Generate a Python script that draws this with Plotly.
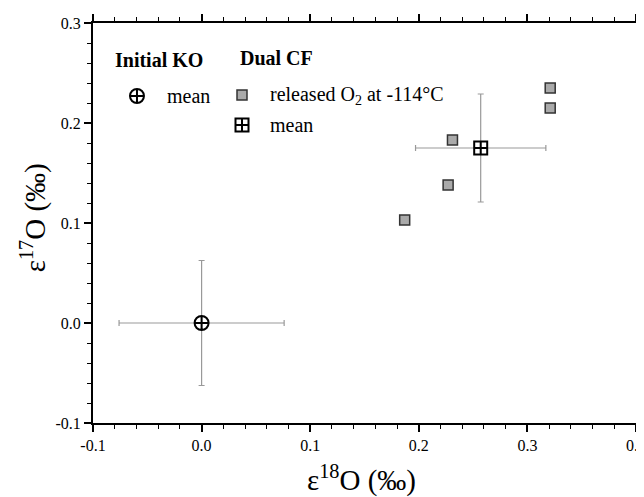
import plotly.graph_objects as go

# Data
ko_x = [0.0]
ko_y = [0.0]
ko_xerr = [0.076]
ko_yerr = [0.0625]

rel_x = [0.321, 0.321, 0.231, 0.227, 0.187]
rel_y = [0.235, 0.215, 0.183, 0.138, 0.103]

cf_mean_x = [0.257]
cf_mean_y = [0.175]
cf_xerr = [0.060]
cf_yerr = [0.054]

x_ticks = [-0.1, 0.0, 0.1, 0.2, 0.3, 0.4]
y_ticks = [-0.1, 0.0, 0.1, 0.2, 0.3]

FONT = "Liberation Serif, Times New Roman, serif"
ERR = "#999999"

fig = go.Figure()

fig.add_trace(go.Scatter(
    x=ko_x, y=ko_y, mode="markers",
    error_x=dict(type="data", array=ko_xerr, color=ERR, thickness=1.2, width=3),
    error_y=dict(type="data", array=ko_yerr, color=ERR, thickness=1.2, width=3),
    marker=dict(symbol="circle-cross-open", size=14, color="black", line=dict(width=2, color="black")),
    showlegend=False))

fig.add_trace(go.Scatter(
    x=cf_mean_x, y=cf_mean_y, mode="markers",
    error_x=dict(type="data", array=cf_xerr, color=ERR, thickness=1.2, width=3),
    error_y=dict(type="data", array=cf_yerr, color=ERR, thickness=1.2, width=3),
    marker=dict(symbol="square-cross-open", size=13, color="black", line=dict(width=2, color="black")),
    showlegend=False))

fig.add_trace(go.Scatter(
    x=rel_x, y=rel_y, mode="markers",
    marker=dict(symbol="square", size=10, color="#aaaaaa", line=dict(width=1.5, color="#333333")),
    showlegend=False))

# legend icons on an overlay paper-like axis
leg_x = [0.081, 0.2744, 0.2744]
leg_y = [0.8175, 0.82, 0.745]
fig.add_trace(go.Scatter(
    x=leg_x[:1], y=leg_y[:1], xaxis="x2", yaxis="y2", mode="markers",
    marker=dict(symbol="circle-cross-open", size=14, color="black", line=dict(width=2, color="black")),
    showlegend=False, hoverinfo="skip"))
fig.add_trace(go.Scatter(
    x=leg_x[1:2], y=leg_y[1:2], xaxis="x2", yaxis="y2", mode="markers",
    marker=dict(symbol="square", size=10, color="#aaaaaa", line=dict(width=1.5, color="#333333")),
    showlegend=False, hoverinfo="skip"))
fig.add_trace(go.Scatter(
    x=leg_x[2:], y=leg_y[2:], xaxis="x2", yaxis="y2", mode="markers",
    marker=dict(symbol="square-cross-open", size=13, color="black", line=dict(width=2, color="black")),
    showlegend=False, hoverinfo="skip"))

axis_common = dict(
    showgrid=False, zeroline=False, showline=True, linecolor="black", linewidth=2,
    mirror="ticks", ticks="outside", ticklen=7, tickwidth=1.5, tickcolor="black",
    tickfont=dict(family=FONT, size=16, color="black"), automargin=False,
    ticklabeloverflow="allow",
    minor=dict(ticks="outside", ticklen=4, tickwidth=1.2, tickcolor="black", dtick=0.02),
)

fig.update_layout(
    width=636, height=489,
    margin=dict(l=85, r=8, t=15, b=74),
    paper_bgcolor="white", plot_bgcolor="white",
    font=dict(family=FONT, color="black"),
    xaxis=dict(range=[-0.1, 0.4], tickvals=x_ticks, ticktext=[f"{v:.1f}" for v in x_ticks],
               **axis_common),
    yaxis=dict(range=[-0.1, 0.3], tickvals=y_ticks, ticktext=[f"{v:.1f}" for v in y_ticks],
               **axis_common),
    xaxis2=dict(range=[0, 1], overlaying="x", visible=False, fixedrange=True),
    yaxis2=dict(range=[0, 1], overlaying="y", visible=False, fixedrange=True),
)

# axis titles
fig.add_annotation(x=0.495, y=-0.138, xref="paper", yref="paper",
                   text="ε<sup>18</sup>O (‰)", showarrow=False,
                   xanchor="center", yanchor="middle",
                   font=dict(family=FONT, size=29, color="black"))
fig.add_annotation(x=-0.11, y=0.5125, xref="paper", yref="paper",
                   text="ε<sup>17</sup>O (‰)", showarrow=False, textangle=-90,
                   xanchor="center", yanchor="middle",
                   font=dict(family=FONT, size=29, color="black"))

ann = [
    dict(x=0.0368, y=0.9075, text="<b>Initial KO</b>", size=20),
    dict(x=0.267, y=0.9125, text="<b>Dual CF</b>", size=20),
    dict(x=0.1326, y=0.8175, text="mean", size=20),
    dict(x=0.322, y=0.82, text="released O<sub>2</sub> at -114°C", size=20),
    dict(x=0.322, y=0.745, text="mean", size=20),
]
for a in ann:
    fig.add_annotation(x=a["x"], y=a["y"], xref="paper", yref="paper", text=a["text"],
                       showarrow=False, xanchor="left", yanchor="middle",
                       font=dict(family=FONT, size=a["size"], color="black"))

fig.write_html("out.html")
